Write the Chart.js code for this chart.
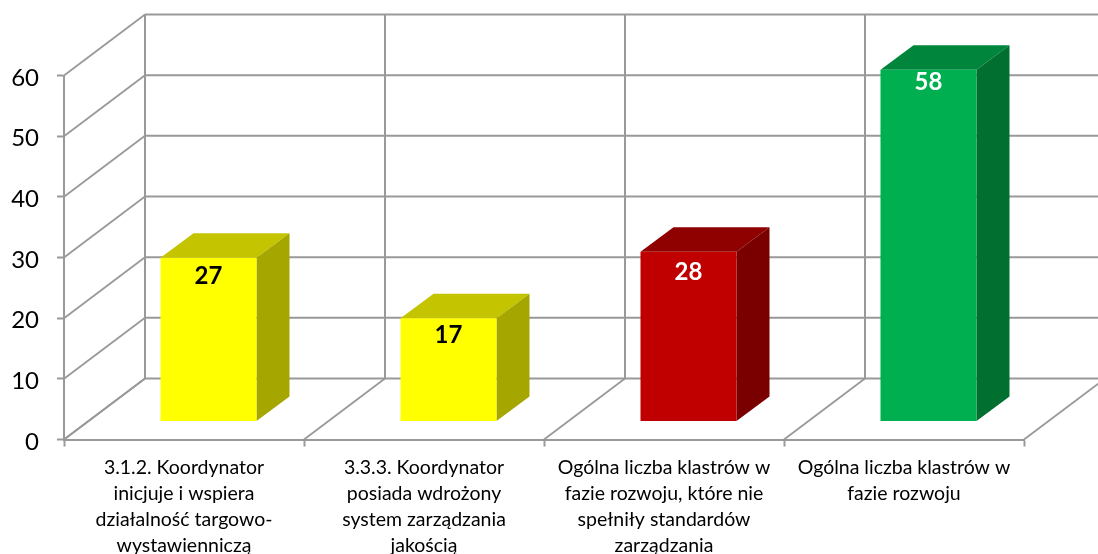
<!DOCTYPE html>
<html><head><meta charset="utf-8">
<style>html,body{margin:0;padding:0;background:#fff;overflow:hidden}#w{position:absolute;left:0;top:0;width:1098px;height:554px}</style>
<script src="https://cdn.jsdelivr.net/npm/chart.js@4"></script>
</head><body><div id="w"><canvas id="c" width="1098" height="554"></canvas></div>
<script>
const categories = [
  ["3.1.2. Koordynator","inicjuje i wspiera","działalność targowo-","wystawienniczą"],
  ["3.3.3. Koordynator","posiada wdrożony","system zarządzania","jakością"],
  ["Ogólna liczba klastrów w","fazie rozwoju, które nie","spełniły standardów","zarządzania"],
  ["Ogólna liczba klastrów w","fazie rozwoju"]
];
const values = [27, 17, 28, 58];
const frontColors = ["#ffff00","#ffff00","#c00000","#00b050"];
const topColors   = ["#c4c400","#c4c400","#8f0000","#00863c"];
const sideColors  = ["#a6a600","#a6a600","#7a0000","#006f30"];
const labelColors = ["#000000","#000000","#ffffff","#ffffff"];
const labelDrop   = [19, 17, 21, 13];
const WALL = {dx:81, dy:-61};
const BAR_SHIFT = {dx:24.5, dy:-18};
const BAR_DEPTH = {dx:33, dy:-24.5};
const LINE = "#999999";

const threeD = {
  id:"threeD",
  beforeDatasetsDraw(chart){
    const {ctx, scales:{x,y}} = chart;
    ctx.save();
    ctx.strokeStyle = LINE; ctx.lineCap="butt";
    const seg=(a,b,c,d,w)=>{ctx.lineWidth=w;ctx.beginPath();ctx.moveTo(a,b);ctx.lineTo(c,d);ctx.stroke();};
    const left = x.left, right = x.right, bottom = y.bottom;
    y.ticks.forEach(t=>{
      const py = y.getPixelForValue(t.value);
      seg(left,py,left+WALL.dx,py+WALL.dy,1.8);
      seg(left+WALL.dx,py+WALL.dy,right+WALL.dx,py+WALL.dy,2);
    });
    const step = (right-left)/categories.length;
    for(let i=0;i<=categories.length;i++){
      const px = left+step*i;
      seg(px,bottom,px+WALL.dx,bottom+WALL.dy,1.8);
      if(i<categories.length) seg(px+WALL.dx,bottom+WALL.dy,px+WALL.dx,y.top+WALL.dy,2);
    }
    ctx.restore();
    ctx.save();
    ctx.translate(BAR_SHIFT.dx,BAR_SHIFT.dy);
    chart.getDatasetMeta(0).data.forEach((b,i)=>{
      const hw=b.width/2, L=b.x-hw, R=b.x+hw, T=b.y, B=b.base;
      ctx.fillStyle=topColors[i];
      ctx.beginPath();ctx.moveTo(L,T);ctx.lineTo(L+BAR_DEPTH.dx,T+BAR_DEPTH.dy);ctx.lineTo(R+BAR_DEPTH.dx,T+BAR_DEPTH.dy);ctx.lineTo(R,T);ctx.closePath();ctx.fill();
      ctx.fillStyle=sideColors[i];
      ctx.beginPath();ctx.moveTo(R,T);ctx.lineTo(R+BAR_DEPTH.dx,T+BAR_DEPTH.dy);ctx.lineTo(R+BAR_DEPTH.dx,B+BAR_DEPTH.dy);ctx.lineTo(R,B);ctx.closePath();ctx.fill();
    });
  },
  afterDatasetsDraw(chart){
    const {ctx} = chart;
    ctx.font = "bold 24px Lato";
    ctx.textAlign="center"; ctx.textBaseline="middle";
    chart.getDatasetMeta(0).data.forEach((b,i)=>{
      ctx.fillStyle=labelColors[i];
      ctx.fillText(String(values[i]), b.x, b.y+labelDrop[i]);
    });
    ctx.restore();
  }
};

new Chart(document.getElementById("c"),{
  type:"bar",
  data:{labels:categories,datasets:[{data:values,backgroundColor:frontColors,borderWidth:0,barPercentage:0.4,categoryPercentage:1,clip:false}]},
  plugins:[threeD],
  options:{
    responsive:false,animation:false,
    layout:{padding:{top:75.5,right:74,left:0,bottom:0}},
    plugins:{legend:{display:false},tooltip:{enabled:false},title:{display:false}},
    scales:{
      x:{
        grid:{drawOnChartArea:false,drawTicks:true,tickLength:7,tickColor:LINE,tickWidth:2,offset:true},
        border:{display:true,color:LINE,width:2},
        ticks:{color:"#000",autoSkip:false,maxRotation:0,minRotation:0,padding:8,font:{family:"Lato",size:19.5,lineHeight:1.333}},
        afterFit(s){s.height=114.5;}
      },
      y:{
        min:0,max:60,
        grid:{drawOnChartArea:false,drawTicks:true,tickLength:7,tickColor:LINE,tickWidth:2},
        border:{display:true,color:LINE,width:2},
        ticks:{stepSize:10,color:"#000",padding:18,labelOffset:2.5,font:{family:"Lato",size:24}},
        afterFit(s){s.width=64;}
      }
    }
  }
});
</script></body></html>
